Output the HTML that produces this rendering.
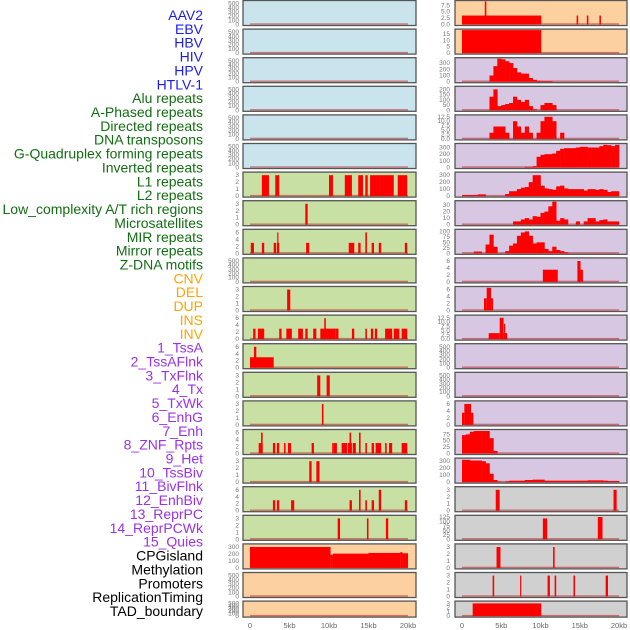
<!DOCTYPE html>
<html><head><meta charset="utf-8"><style>
html,body{margin:0;padding:0;background:#fff;width:630px;height:630px;overflow:hidden}
svg{display:block}
</style></head><body>
<svg id="chart" width="630" height="630" viewBox="0 0 630 630" xmlns="http://www.w3.org/2000/svg" font-family="Liberation Sans, sans-serif"></svg>
<script>
// ---------- data ----------
const labels = ["AAV2","EBV","HBV","HIV","HPV","HTLV-1","Alu repeats","A-Phased repeats","Directed repeats","DNA transposons","G-Quadruplex forming repeats","Inverted repeats","L1 repeats","L2 repeats","Low_complexity A/T rich regions","Microsatellites","MIR repeats","Mirror repeats","Z-DNA motifs","CNV","DEL","DUP","INS","INV","1_TssA","2_TssAFlnk","3_TxFlnk","4_Tx","5_TxWk","6_EnhG","7_Enh","8_ZNF_Rpts","9_Het","10_TssBiv","11_BivFlnk","12_EnhBiv","13_ReprPC","14_ReprPCWk","15_Quies","CPGisland","Methylation","Promoters","ReplicationTiming","TAD_boundary"];
const labelGroups = [6,13,5,15,5];
const groupColors = ["#1c1cf0","#126e12","#ffa500","#9a32ea","#000000"];
const xTickValues = [0,5,10,15,20];
const xTickLabels = ["0","5kb","10kb","15kb","20kb"];
const emptyTicks = ["0","100","200","300","400","500"];
const ticks3 = ["0","1","2","3"];
const ticks6 = ["0","2","4","6"];

// left column segments [startKb, endKb, value]
const segL6 = [[1.5,2.4,3],[3.2,3.7,3],[10.0,10.5,3],[12.0,12.9,3],[13.7,14.3,3],[14.6,14.9,3],[15.2,18.2,3],[18.7,19.9,3]];
const segL7 = [[7.0,7.3,3]];
const segL8 = [[0.1,0.5,3],[1.5,1.8,3],[3.0,3.3,3],[3.4,3.7,3],[3.45,3.6,6],[7.1,7.5,3],[12.5,13.2,3],[13.7,14.0,3],[14.6,14.8,6],[15.4,15.7,3],[16.3,16.6,3],[19.6,19.9,3]];
const segL10 = [[4.7,5.1,3]];
const segL11 = [[0.4,0.7,3],[1.0,1.8,3],[3.7,4.0,3],[4.6,5.3,3],[6.1,6.7,3],[7.0,7.3,3],[8.0,8.4,3],[8.9,10.8,3],[9.4,9.6,6],[10.8,11.2,3],[12.9,13.2,3],[14.6,14.8,3],[15.3,15.6,3],[15.8,16.1,3],[17.1,18.0,3],[18.2,18.9,3],[19.2,19.9,3]];
const segL12 = [[0,3.0,3],[0.5,0.8,6]];
const segL13 = [[8.5,8.9,3],[9.7,10.1,3]];
const segL14 = [[9.1,9.3,3]];
const segL15 = [[1.1,1.6,3],[1.4,1.6,6],[2.9,3.2,3],[3.4,3.7,3],[4.3,4.5,3],[4.8,5.2,3],[7.8,8.1,3],[10.4,10.6,3],[10.6,11.0,3],[11.6,12.3,3],[12.4,12.9,3],[12.6,12.8,6],[13.0,13.4,3],[13.8,14.0,6],[14.6,14.8,3],[15.4,15.7,3],[15.9,16.6,3],[17.1,17.3,3],[17.6,18.0,3],[19.2,19.9,3]];
const segL16 = [[7.5,7.8,3],[8.4,8.8,3]];
const segL17 = [[2.9,3.2,3],[3.4,3.7,3],[5.2,5.6,3],[12.6,12.9,3],[14.6,14.8,3],[15.4,15.7,3],[19.6,19.9,3],[13.8,14.0,6],[16.3,16.6,6]];
const segL18 = [[11.1,11.4,3],[14.8,15.0,3],[17.2,17.5,3]];
const segL19 = [[0,10.2,300],[10.2,10.5,190],[10.5,15.0,205],[15.0,19.0,215],[19.0,19.3,225],[19.3,20.0,210]];

// right column
const segR0 = [[0,10.1,3.5],[2.9,3.1,9],[14.6,14.8,3.5],[15.9,16.1,3.5],[17.5,17.7,3.5]];
const segR1 = [[0,10.1,18]];
const binsR2 = [0,0,0,0,0,0,0,100,250,370,360,330,300,220,150,130,130,60,30,15,10,10,10,0,0,0,0,0,0,0,0,0,0,0,0,0,0,0,0,0];
const binsR3 = [0,0,0,0,0,0,0,130,200,40,50,60,70,130,100,80,100,40,10,0,50,70,70,50,0,0,0,0,0,0,0,0,0,0,0,0,0,0,0,0];
const binsR4 = [0,0,0,0,0,0,0,3.5,7,7,7,3.5,0,10,7,3.5,7,3.5,0,3.5,10,12.5,12.5,10,0,3.5,0,0,0,0,0,0,0,0,0,0,0,0,0,0];
const binsR5 = [0,0,0,0,0,0,0,0,0,0,0,0,0,0,0,0,10,10,20,160,190,200,200,210,250,280,290,290,290,300,310,310,300,300,300,320,340,335,320,340];
const binsR6 = [15,15,15,15,25,25,0,0,0,0,0,30,70,70,100,120,130,200,300,300,150,110,100,90,140,150,110,100,100,100,100,80,100,100,90,100,90,60,70,70];
const binsR7 = [0,0,0,0,0,0,0,0,0,0,0,0,0,5,5,8,10,8,13,12,18,20,28,35,6,10,8,0,0,5,0,5,10,10,5,7,8,5,5,5];
const binsR8 = [0,0,0,8,8,0,40,85,30,0,0,10,35,45,80,95,100,80,45,50,50,20,10,30,15,10,5,0,0,0,0,0,0,0,0,0,0,0,0,0];
const segR9 = [[10.3,12.2,3.5],[14.7,15.1,6],[15.1,15.4,3.5]];
const segR10 = [[2.8,3.15,3.5],[3.15,3.7,6.5],[3.7,3.95,3.5]];
const segR11 = [[3.4,4.8,3.5],[4.8,5.3,12.5],[5.3,5.75,3.5],[5.35,5.5,9]];
const segR14 = [[0,0.3,3.5],[0.3,1.15,6],[1.15,1.45,3.5]];
const binsR15 = [72,75,85,88,88,88,88,60,10,0,0,0,0,0,0,0,0,0,0,0,0,0,0,0,0,0,0,0,0,0,0,0,0,0,0,0,0,0,0,0];
const binsR16 = [320,320,310,310,310,300,270,120,30,5,0,10,20,20,20,20,30,30,35,35,35,20,20,20,20,20,20,20,20,20,20,20,25,25,25,25,20,15,15,15];
const segR17 = [[4.3,4.8,3],[19.3,19.7,3]];
const segR18 = [[10.3,10.85,118],[17.3,17.9,126]];
const segR19 = [[4.4,4.9,3],[11.6,11.8,3]];
const segR20 = [[3.9,4.1,3],[7.4,7.55,3],[10.9,11.2,3],[11.8,12.0,3],[14.2,14.4,3],[18.3,18.6,3]];
const segR21 = [[1.36,10.1,3]];

// ---------- panel configuration ----------
const BLUE="#c9e4ec", GREEN="#c9e0a5", ORANGE="#fdd09f", PURPLE="#d7c7e2", GRAY="#d0d0d0";
const leftPanels = [
  {bg:BLUE,ymax:550,ticks:emptyTicks},{bg:BLUE,ymax:550,ticks:emptyTicks},{bg:BLUE,ymax:550,ticks:emptyTicks},
  {bg:BLUE,ymax:550,ticks:emptyTicks},{bg:BLUE,ymax:550,ticks:emptyTicks},{bg:BLUE,ymax:550,ticks:emptyTicks},
  {bg:GREEN,ymax:3.3,ticks:ticks3,segs:segL6},{bg:GREEN,ymax:3.3,ticks:ticks3,segs:segL7},
  {bg:GREEN,ymax:6.6,ticks:ticks6,segs:segL8},{bg:GREEN,ymax:550,ticks:emptyTicks},
  {bg:GREEN,ymax:3.3,ticks:ticks3,segs:segL10},{bg:GREEN,ymax:6.6,ticks:ticks6,segs:segL11},
  {bg:GREEN,ymax:6.6,ticks:ticks6,segs:segL12},{bg:GREEN,ymax:3.3,ticks:ticks3,segs:segL13},
  {bg:GREEN,ymax:3.3,ticks:ticks3,segs:segL14},{bg:GREEN,ymax:6.6,ticks:ticks6,segs:segL15},
  {bg:GREEN,ymax:3.3,ticks:ticks3,segs:segL16},{bg:GREEN,ymax:6.6,ticks:ticks6,segs:segL17},
  {bg:GREEN,ymax:3.3,ticks:ticks3,segs:segL18},{bg:ORANGE,ymax:330,ticks:["0","100","200","300"],segs:segL19},
  {bg:ORANGE,ymax:550,ticks:emptyTicks},{bg:ORANGE,ymax:550,ticks:emptyTicks}
];
const rightPanels = [
  {bg:ORANGE,ymax:9,ticks:["0.0","2.5","5.0","7.5"],segs:segR0},
  {bg:ORANGE,ymax:18,ticks:["0","5","10","15"],segs:segR1},
  {bg:PURPLE,ymax:370,ticks:["0","100","200","300"],bins:binsR2},
  {bg:PURPLE,ymax:220,ticks:["0","50","100","150","200"],bins:binsR3},
  {bg:PURPLE,ymax:13,ticks:["0.0","2.5","5.0","7.5","10.0","12.5"],bins:binsR4},
  {bg:PURPLE,ymax:345,ticks:["0","100","200","300"],bins:binsR5},
  {bg:PURPLE,ymax:330,ticks:["0","100","200","300"],bins:binsR6},
  {bg:PURPLE,ymax:35,ticks:["0","10","20","30"],bins:binsR7},
  {bg:PURPLE,ymax:105,ticks:["0","25","50","75","100"],bins:binsR8},
  {bg:PURPLE,ymax:6.6,ticks:ticks6,segs:segR9},
  {bg:PURPLE,ymax:6.6,ticks:ticks6,segs:segR10},
  {bg:PURPLE,ymax:13.5,ticks:["0.0","2.5","5.0","7.5","10.0","12.5"],segs:segR11},
  {bg:PURPLE,ymax:550,ticks:emptyTicks},{bg:PURPLE,ymax:550,ticks:emptyTicks},
  {bg:PURPLE,ymax:6.6,ticks:ticks6,segs:segR14},
  {bg:PURPLE,ymax:90,ticks:["0","25","50","75"],bins:binsR15},
  {bg:PURPLE,ymax:330,ticks:["0","100","200","300"],bins:binsR16},
  {bg:GRAY,ymax:3.3,ticks:ticks3,segs:segR17},
  {bg:GRAY,ymax:130,ticks:["0","25","50","75","100","125"],segs:segR18},
  {bg:GRAY,ymax:3.3,ticks:ticks3,segs:segR19},
  {bg:GRAY,ymax:3.3,ticks:ticks3,segs:segR20},
  {bg:GRAY,ymax:3.3,ticks:ticks3,segs:segR21}
];

// ---------- drawing ----------
const NS="http://www.w3.org/2000/svg";
const svg=document.getElementById("chart");
function mk(tag,attrs,parent){const e=document.createElementNS(NS,tag);for(const k in attrs)e.setAttribute(k,attrs[k]);(parent||svg).appendChild(e);return e;}

// labels
let li=0;
labelGroups.forEach((n,g)=>{
  for(let k=0;k<n;k++){
    const t=mk("text",{x:203,y:15+13.86*li+5,"text-anchor":"end","font-size":"14",fill:groupColors[g]});
    t.textContent=labels[li];
    
    
    li++;
  }
});

const cols=[
  {panels:leftPanels,boxX:243,boxW:173,x0:250,pxPerKb:7.9,tickX:239,name:'left'},
  {panels:rightPanels,boxX:455,boxW:172,x0:462,pxPerKb:7.85,tickX:450,name:'right'}
];
cols.forEach(col=>{
  const xs=kb=>col.x0+kb*col.pxPerKb;
  col.panels.forEach((p,i)=>{
    const T=0.5+28.6*i, H=(i===21)?16:25;
    const ys=v=>T+H-1-Math.min(v,p.ymax)/p.ymax*(H-2);
    const g=mk("g",{});
    
    
    mk("rect",{x:col.boxX,y:T,width:col.boxW,height:H,fill:p.bg},g);
    // ticks
    const n=p.ticks.length;
    p.ticks.forEach((lab,k)=>{
      const v=parseFloat(lab);
      const t=mk("text",{x:col.tickX,y:ys(v)+2,"text-anchor":"end","font-size":"6.5",fill:"#777"},g);
      t.textContent=lab;
      
      
    });
    // baseline
    mk("rect",{x:xs(0),y:T+H-2.2,width:xs(20)-xs(0),height:1.4,fill:"rgba(190,30,30,0.55)"},g);
    if(p.segs){
      p.segs.forEach(s=>{
        const r=mk("rect",{x:xs(s[0]),y:ys(s[2]),width:Math.max(1,xs(s[1])-xs(s[0])),height:T+H-1-ys(s[2]),fill:"#ff0000"},g);
        
        
      });
    }
    if(p.bins){
      p.bins.forEach((v,b)=>{
        if(v<=0)return;
        const r=mk("rect",{x:xs(b*0.5),y:ys(v),width:xs((b+1)*0.5)-xs(b*0.5)+0.3,height:T+H-1-ys(v),fill:"#ff0000"},g);
        
        
      });
    }
    mk("rect",{x:col.boxX,y:T,width:col.boxW,height:H,fill:"none",stroke:"#555",'stroke-width':1.3},g);
  });
  xTickValues.forEach((v,k)=>{
    const t=mk("text",{x:xs(v),y:628,"text-anchor":"middle","font-size":"7.5",fill:"#666"});
    t.textContent=xTickLabels[k];
    
    
  });
});
</script>
</body></html>
